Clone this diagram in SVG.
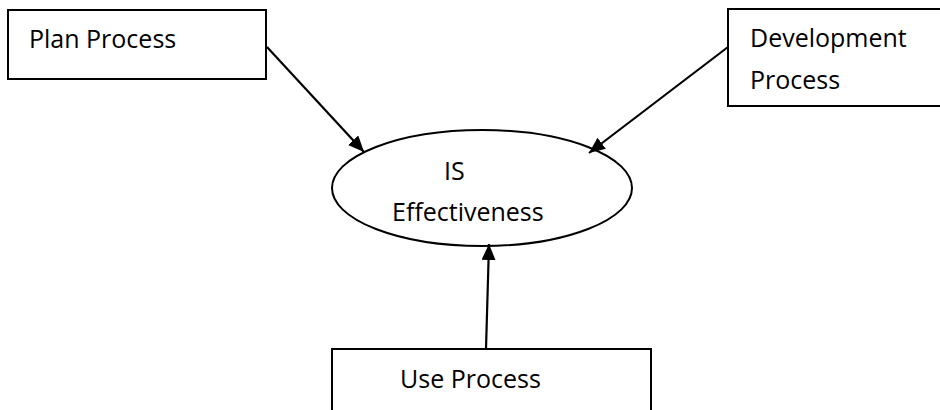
<svg xmlns="http://www.w3.org/2000/svg" width="940" height="410" viewBox="0 0 940 410">
<defs>
<style>
.box{fill:#fff;stroke:#000;stroke-width:2}
.lbl{font-family:"Open Sans","Liberation Sans",sans-serif;font-size:25px;fill:#000}
.conn{stroke:#000;stroke-width:2.2;fill:none}
</style>
<marker id="ah" viewBox="0 0 16 14" refX="16" refY="7" markerWidth="16" markerHeight="14" markerUnits="userSpaceOnUse" orient="auto">
<path d="M0,0 L16,7 L0,14 Z" fill="#000"/>
</marker>
</defs>
<rect width="940" height="410" fill="#fff"/>
<g id="plan">
<rect class="box" x="8" y="10" width="258" height="69"/>
<text class="lbl" x="29" y="48">Plan Process</text>
</g>
<g id="development">
<rect class="box" x="728" y="9" width="220" height="97"/>
<text class="lbl" x="750" y="47">Development</text>
<text class="lbl" x="750" y="89">Process</text>
</g>
<g id="effectiveness">
<ellipse class="box" cx="482" cy="188" rx="150" ry="58"/>
<text class="lbl" x="444" y="180">IS</text>
<text class="lbl" x="392" y="221">Effectiveness</text>
</g>
<g id="use">
<rect class="box" x="332" y="349" width="319" height="70"/>
<text class="lbl" x="400" y="388">Use Process</text>
</g>
<g id="connectors">
<line class="conn" x1="267" y1="47" x2="364" y2="152" marker-end="url(#ah)"/>
<line class="conn" x1="728" y1="47" x2="589" y2="153" marker-end="url(#ah)"/>
<line class="conn" x1="486" y1="349" x2="489" y2="244" marker-end="url(#ah)"/>
</g>
</svg>
